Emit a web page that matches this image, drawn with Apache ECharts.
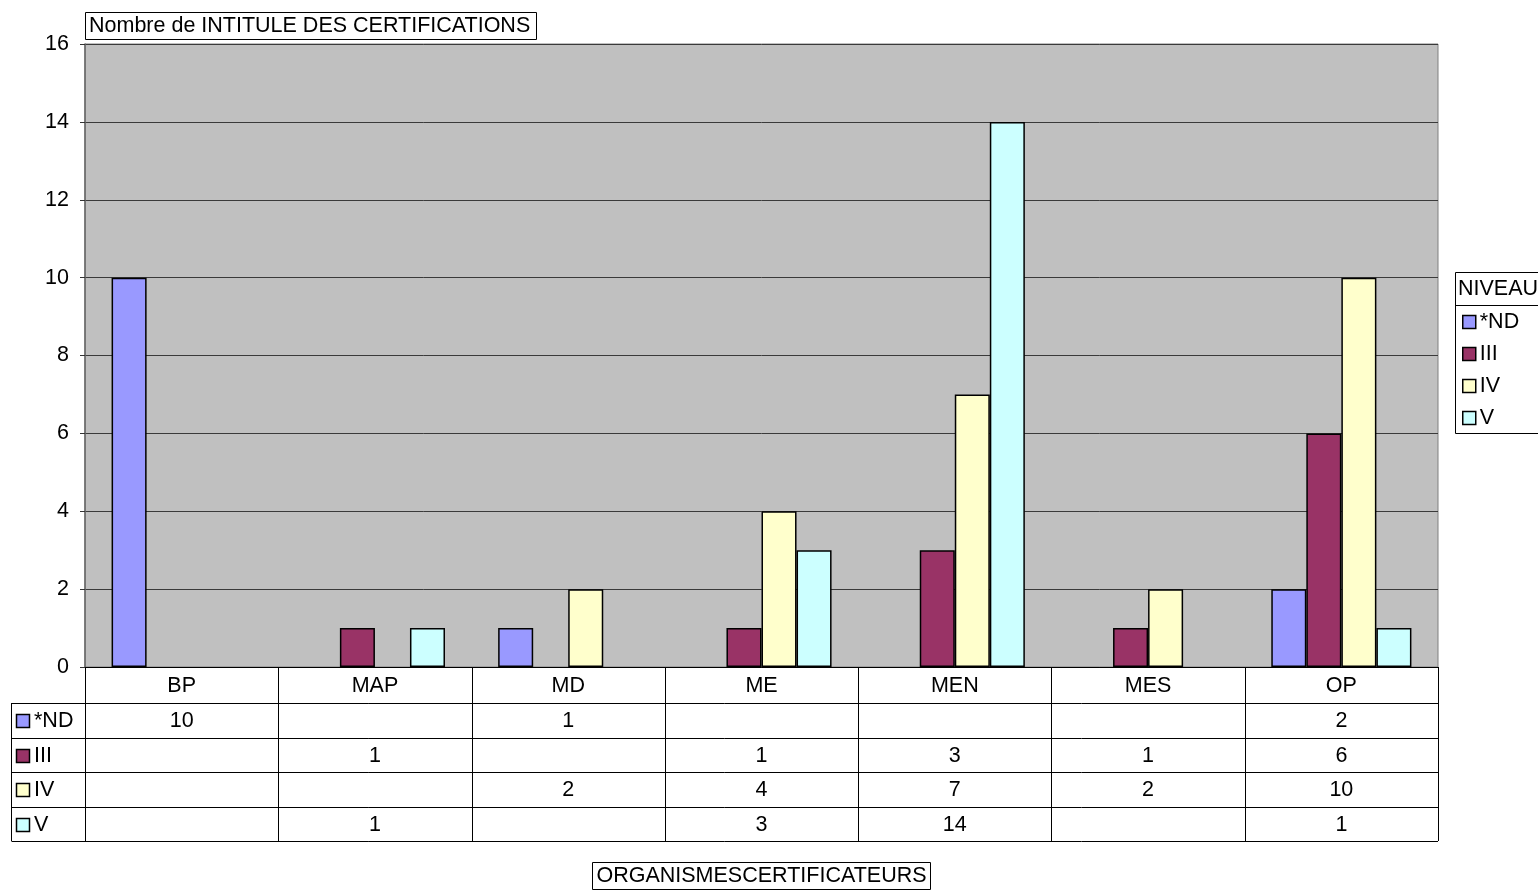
<!DOCTYPE html>
<html>
<head>
<meta charset="utf-8">
<script src="https://cdn.jsdelivr.net/npm/echarts@6/dist/echarts.min.js"></script>
<style>
  html, body { margin: 0; padding: 0; background: #fff; }
  #chart { width: 1538px; height: 893px; }
</style>
</head>
<body>
<div id="chart"></div>
<script>
// Certifications per certifying body, split by level
const categories = ['BP', 'MAP', 'MD', 'ME', 'MEN', 'MES', 'OP'];
const seriesNames = ['*ND', 'III', 'IV', 'V'];
const ndValues  = [10, null, 1, null, null, null, 2];
const iiiValues = [null, 1, null, 1, 3, 1, 6];
const ivValues  = [null, null, 2, 4, 7, 2, 10];
const vValues   = [null, 1, null, 3, 14, null, 1];
const seriesValues = [ndValues, iiiValues, ivValues, vValues];
const seriesColors = ['#9999FF', '#993366', '#FFFFCC', '#CCFFFF'];
const yMin = 0, yMax = 16, yStep = 2;

const chartTitle = 'Nombre de INTITULE DES CERTIFICATIONS';
const axisTitle = 'ORGANISMESCERTIFICATEURS';
const legendTitle = 'NIVEAU';

const FONT = '"Liberation Sans", Arial, sans-serif';
const FS = 21.5;

const chart = echarts.init(document.getElementById('chart'), null, { renderer: 'canvas' });

const grid = { left: 85, top: 44, width: 1353, height: 623 };

chart.setOption({
  animation: false,
  textStyle: { fontFamily: FONT },
  grid: {
    left: grid.left, top: grid.top, width: grid.width, height: grid.height,
    show: true, backgroundColor: '#C0C0C0', borderColor: '#808080', borderWidth: 1
  },
  legend: {
    data: seriesNames,
    orient: 'vertical',
    left: 1462, top: 311,
    padding: 0,
    icon: 'rect',
    itemWidth: 13, itemHeight: 13, itemGap: 10,
    selectedMode: false,
    textStyle: { fontFamily: FONT, fontSize: FS, color: '#000', lineHeight: 22, padding: [0, 0, 0, -1] },
    itemStyle: { borderColor: '#000', borderWidth: 1.5 }
  },
  xAxis: {
    type: 'category',
    data: categories,
    boundaryGap: true,
    axisLine: { show: true, lineStyle: { color: '#000', width: 1 } },
    axisTick: { show: false },
    axisLabel: { margin: 8, fontFamily: FONT, fontSize: FS, color: '#000', interval: 0 },
    splitLine: { show: false }
  },
  yAxis: {
    type: 'value',
    min: yMin, max: yMax, interval: yStep,
    axisLine: { show: true, lineStyle: { color: '#666', width: 1.5 } },
    axisTick: { show: true, length: 5, lineStyle: { color: '#333' } },
    axisLabel: { margin: 16, fontFamily: FONT, fontSize: FS, color: '#000' },
    splitLine: { show: true, lineStyle: { color: '#3a3a3a', width: 1 } }
  },
  series: seriesNames.map((name, i) => ({
    name,
    type: 'bar',
    data: seriesValues[i],
    barGap: '0%',
    barCategoryGap: '27.5%',
    itemStyle: { color: seriesColors[i], borderColor: '#000', borderWidth: 1.5 }
  }))
});

// Data table, title boxes and legend frame, laid out from the axis scales
function buildGraphics() {
  const g = [];
  const y0 = chart.convertToPixel({ yAxisIndex: 0 }, 0);
  const c0 = chart.convertToPixel({ xAxisIndex: 0 }, categories[0]);
  const c1 = chart.convertToPixel({ xAxisIndex: 0 }, categories[1]);
  const colW = c1 - c0;
  const left = c0 - colW / 2;
  const right = left + colW * categories.length;
  const headerH = 36, rowH = 34.5;
  const rowTop = y0 + headerH;
  const tableBottom = rowTop + rowH * seriesNames.length;
  const keyLeft = 11;
  const line = (x1, y1, x2, y2) => ({
    type: 'line', silent: true, z: 10,
    shape: { x1, y1, x2, y2 },
    style: { stroke: '#000', lineWidth: 1 }
  });

  // column dividers
  for (let i = 0; i <= categories.length; i++) {
    const x = Math.round(left + colW * i) + 0.5;
    g.push(line(x, y0, x, tableBottom));
  }
  // row dividers
  for (let r = 0; r <= seriesNames.length; r++) {
    const y = Math.round(rowTop + rowH * r) + 0.5;
    g.push(line(keyLeft + 0.5, y, right, y));
  }
  g.push(line(keyLeft + 0.5, rowTop, keyLeft + 0.5, tableBottom));

  // row headers with colour keys, and cell values
  seriesNames.forEach((name, r) => {
    const cy = rowTop + rowH * r + rowH / 2;
    g.push({
      type: 'rect', silent: true, z: 11,
      shape: { x: 16.5, y: Math.round(cy - 6) + 0.5, width: 13, height: 13 },
      style: { fill: seriesColors[r], stroke: '#000', lineWidth: 1.5 }
    });
    g.push({
      type: 'text', silent: true, z: 11,
      style: { text: name, x: 34, y: cy + 1, fontFamily: FONT, fontSize: FS, fill: '#000', verticalAlign: 'middle', align: 'left' }
    });
    seriesValues[r].forEach((v, i) => {
      if (v === null || v === undefined) return;
      const cx = chart.convertToPixel({ xAxisIndex: 0 }, categories[i]);
      g.push({
        type: 'text', silent: true, z: 11,
        style: { text: String(v), x: cx, y: cy + 1, fontFamily: FONT, fontSize: FS, fill: '#000', align: 'center', verticalAlign: 'middle' }
      });
    });
  });

  // chart title box
  g.push({
    type: 'rect', silent: true, z: 11,
    shape: { x: 85.5, y: 12.5, width: 451, height: 27 },
    style: { fill: '#fff', stroke: '#000', lineWidth: 1 }
  });
  g.push({
    type: 'text', silent: true, z: 12,
    style: { text: chartTitle, x: 89, y: 26.5, fontFamily: FONT, fontSize: FS, fill: '#000', verticalAlign: 'middle' }
  });

  // category axis title box
  const midX = (left + right) / 2;
  g.push({
    type: 'rect', silent: true, z: 11,
    shape: { x: 592.5, y: 862.5, width: 338, height: 27 },
    style: { fill: '#fff', stroke: '#000', lineWidth: 1 }
  });
  g.push({
    type: 'text', silent: true, z: 12,
    style: { text: axisTitle, x: midX, y: 876.5, fontFamily: FONT, fontSize: FS, fill: '#000', align: 'center', verticalAlign: 'middle' }
  });

  // legend frame and heading
  g.push({
    type: 'rect', silent: true, z: 1,
    shape: { x: 1455.5, y: 272.5, width: 120, height: 161 },
    style: { fill: '#fff', stroke: '#000', lineWidth: 1 }
  });
  g.push(line(1455.5, 305.5, 1538, 305.5));
  g.push({
    type: 'text', silent: true, z: 12,
    style: { text: legendTitle, x: 1458, y: 289.5, fontFamily: FONT, fontSize: FS, fill: '#000', verticalAlign: 'middle' }
  });

  chart.setOption({ graphic: g });
}
buildGraphics();
</script>
</body>
</html>
